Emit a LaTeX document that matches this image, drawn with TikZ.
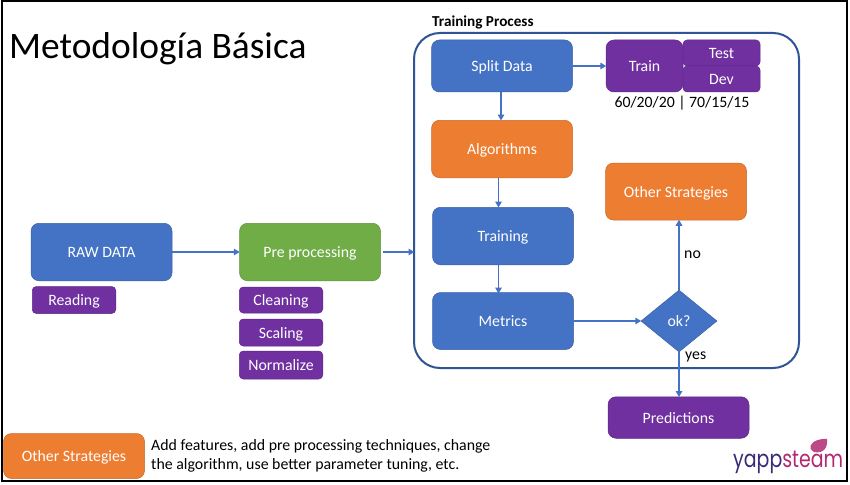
\documentclass[tikz,border=0pt]{standalone}
\usepackage{fontspec}
\setmainfont{Carlito}
\newfontfamily\logofont[FakeStretch=0.79]{Poppins}
\usetikzlibrary{arrows.meta,shapes.geometric}
\definecolor{cblue}{HTML}{4472C4}
\definecolor{corange}{HTML}{ED7D31}
\definecolor{cgreen}{HTML}{70AD47}
\definecolor{cpurple}{HTML}{7030A0}
\definecolor{cframe}{HTML}{2F5597}
\definecolor{logonavy}{HTML}{3B2A7A}
\definecolor{logomag}{HTML}{B02A72}
\tikzset{
  x=1pt,y=-1pt,
  box/.style={rounded corners=8pt,draw=#1!85!black,line width=.5pt,fill=#1,text=white,font=\fontsize{15.8}{18}\selectfont,inner sep=0pt,anchor=center,text height=11.2pt,text depth=.2pt},
  bluebox/.style={box=cblue,minimum width=141pt,minimum height=57.5pt},
  orangebox/.style={box=corange,minimum width=141pt,minimum height=57.5pt},
  purplebox/.style={box=cpurple,rounded corners=4pt,minimum width=83.5pt,minimum height=27pt},
  link/.style={draw=cblue,line width=1.9pt,-{Triangle[length=6pt,width=6.5pt]},shorten >=-.5pt},
  plain/.style={font=\fontsize{15.8}{18}\selectfont,text=black,inner sep=0pt}
}
\begin{document}
\begin{tikzpicture}
\useasboundingbox (0,0) rectangle (850,484);
\fill[white] (0,0) rectangle (850,484);
\draw[black,line width=2pt] (2,1) rectangle (847,481);
\node[anchor=west,inner sep=0pt,font=\fontsize{37.4}{40}\selectfont] (title) at (9,49) {Metodología Básica};
\node[anchor=west,inner sep=0pt,font=\bfseries\fontsize{15.2}{18}\selectfont] (tplabel) at (432,22.5) {Training Process};
\draw[cframe,line width=2pt,rounded corners=26pt] (414,33) rectangle (799,368);
\node[bluebox] (raw) at (101.5,252) {RAW DATA};
\node[box=cgreen,minimum width=141pt,minimum height=57.5pt] (pre) at (310,252) {Pre processing};
\node[purplebox] (reading) at (74,300) {Reading};
\node[purplebox,minimum height=26pt] (clean) at (281,300) {Cleaning};
\node[purplebox] (scal) at (281,332.5) {Scaling};
\node[purplebox,minimum height=28pt] (norm) at (281,365) {Normalize};
\node[bluebox,minimum height=52pt] (split) at (502,66) {Split Data};
\node[orangebox] (algo) at (502,149) {Algorithms};
\node[bluebox] (train) at (503,236) {Training};
\node[bluebox,minimum height=57pt] (metrics) at (503,321) {Metrics};
\node[orangebox,minimum height=57pt] (other) at (676,191.5) {Other Strategies};
\node[box=cpurple,minimum width=77pt,minimum height=52pt] (trn) at (644.5,66) {Train};
\node[box=cpurple,rounded corners=4pt,minimum width=77pt,minimum height=26pt] (test) at (721.5,53) {Test};
\node[box=cpurple,rounded corners=4pt,minimum width=77pt,minimum height=26pt] (dev) at (721.5,79) {Dev};
\node[plain] (ratio) at (682,103.5) {60/20/20 | 70/15/15};
\node[diamond,aspect=1.226,draw=cblue!85!black,line width=.5pt,fill=cblue,text=white,inner sep=0pt,minimum width=76pt,minimum height=62pt,font=\fontsize{15.8}{18}\selectfont,text height=11.2pt,text depth=.2pt] (ok) at (679,321) {ok?};
\node[box=cpurple,minimum width=141pt,minimum height=41.5pt] (pred) at (678.5,417.5) {Predictions};
\node[box=corange,minimum width=141pt,minimum height=45pt] (legend) at (74,456) {Other Strategies};
\node[anchor=north west,align=left,font=\fontsize{15.85}{19}\selectfont,inner sep=0pt] (legtext) at (151,439.5) {Add features, add pre processing techniques, change\\the algorithm, use better parameter tuning, etc.};
\node[plain,anchor=west] (no) at (684,255) {no};
\node[plain,anchor=west] (yes) at (685,356.5) {yes};
\coordinate (frameL) at (414,252);
\coordinate (preR) at (383,252);
\coordinate (splitB) at (501,92);
\coordinate (algoT) at (501,120);
\coordinate (algoB) at (498.5,178);
\coordinate (trainT) at (498.5,207);
\coordinate (trainB) at (498.5,265);
\coordinate (metT) at (498.5,293);
\draw[link] (raw) -- (pre);
\draw[link] (preR) -- (frameL);
\draw[link] (split) -- (trn);
\draw[link] (splitB) -- (algoT);
\draw[link] (algoB) -- (trainT);
\draw[link] (trainB) -- (metT);
\draw[link] (metrics) -- (ok);
\draw[link] (ok) -- (other.south -| ok);
\draw[link] (ok) -- (pred.north -| ok);
% logo
\node[anchor=base west,inner sep=0pt,font=\logofont\fontsize{24}{25}\selectfont,text=logonavy] (logo) at (733,467) {yapp\textcolor{logomag}{steam}};
\fill[logomag!85!white] (814,452) .. controls (806,448) and (812,438) .. (827,439) .. controls (828,447) and (824,454) .. (814,452) -- cycle;
\end{tikzpicture}
\end{document}
